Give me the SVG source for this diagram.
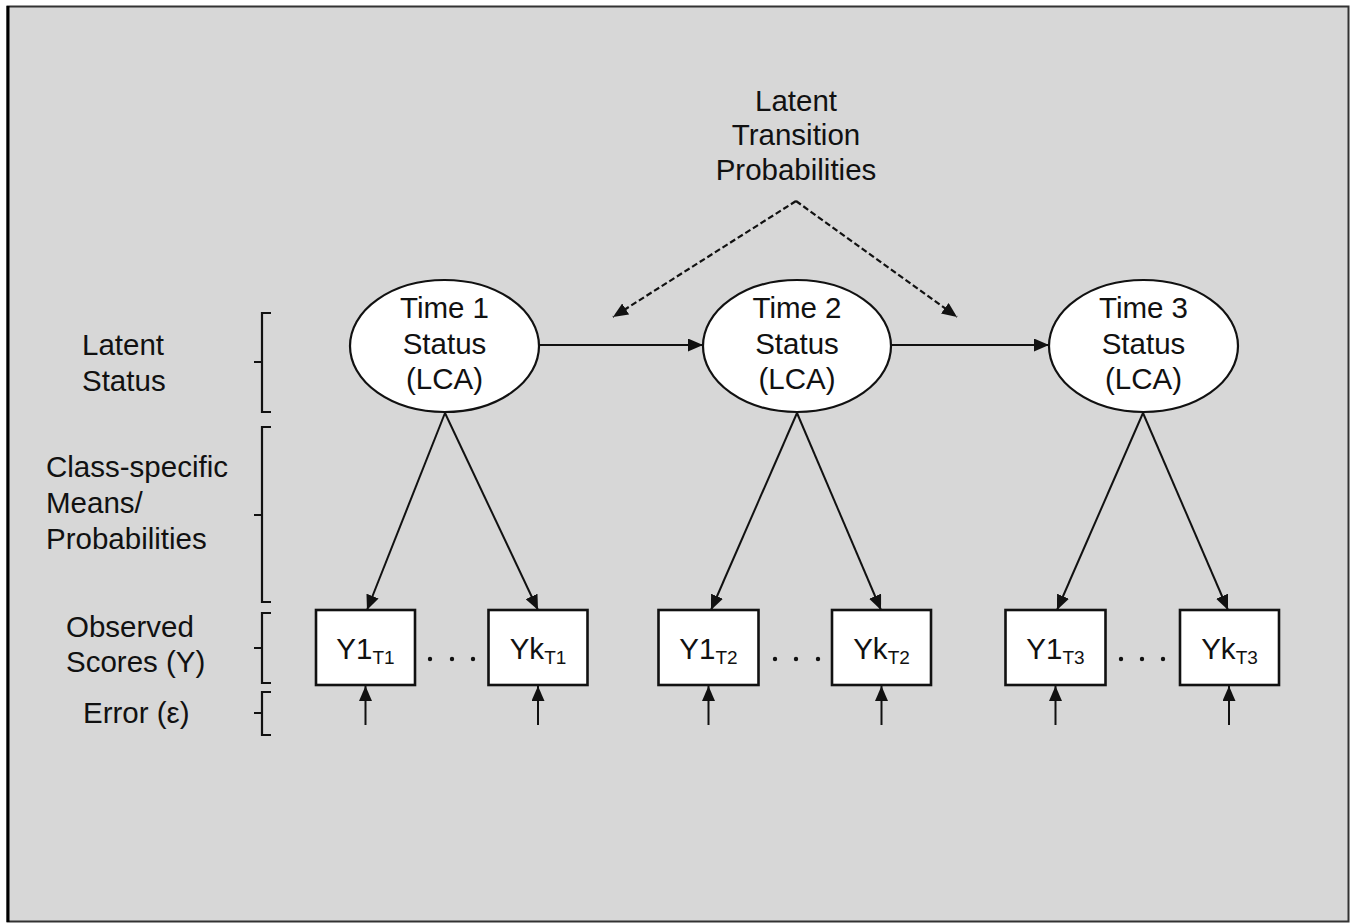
<svg xmlns="http://www.w3.org/2000/svg" width="1357" height="923" viewBox="0 0 1357 923">
<style>
text{font-family:"Liberation Sans",Arial,sans-serif;font-size:29.5px;fill:#111}
.c{text-anchor:middle}
.sub{font-size:19px}
.node ellipse,.node rect{fill:#fff;stroke:#111}
.edge{stroke:#111;stroke-width:2;fill:none}
.dash{stroke-dasharray:6,3;stroke-width:2.2}
.br{stroke:#111;stroke-width:2.2;fill:none}
</style>
<defs>
<marker id="ah" markerUnits="userSpaceOnUse" markerWidth="15" markerHeight="13" refX="15" refY="6.5" orient="auto">
<path d="M0,0 L15,6.5 L0,13 z" fill="#111"/>
</marker>
</defs>
<rect x="0" y="0" width="1357" height="923" fill="#fff"/>
<rect x="7.5" y="6.5" width="1341" height="915" fill="#d7d7d7" stroke="#333" stroke-width="2"/>
<line x1="8" y1="6" x2="8" y2="922" stroke="#000" stroke-width="3"/>

<g id="title">
<text class="c" x="796" y="111">Latent</text>
<text class="c" x="796" y="145">Transition</text>
<text class="c" x="796" y="180">Probabilities</text>
</g>

<g id="labels">
<text x="82" y="355">Latent</text>
<text x="82" y="391">Status</text>
<text x="46" y="477">Class-specific</text>
<text x="46" y="513">Means/</text>
<text x="46" y="549">Probabilities</text>
<text x="66" y="637">Observed</text>
<text x="66" y="672">Scores (Y)</text>
<text x="83" y="723">Error (ε)</text>
</g>

<g id="brackets">
<path class="br" d="M271,313 H262 V412 H271 M262,362 H254"/>
<path class="br" d="M271,427 H262 V602 H271 M262,515 H254"/>
<path class="br" d="M271,613 H262 V683 H271 M262,648 H254"/>
<path class="br" d="M271,692 H262 V735 H271 M262,713 H254"/>
</g>

<g id="connectors">
<line class="edge" x1="539" y1="345" x2="703" y2="345" marker-end="url(#ah)"/>
<line class="edge" x1="891" y1="345" x2="1049" y2="345" marker-end="url(#ah)"/>
<line class="edge dash" x1="796" y1="201" x2="613" y2="317" marker-end="url(#ah)"/>
<line class="edge dash" x1="796" y1="201" x2="957" y2="317" marker-end="url(#ah)"/>
<line class="edge" x1="445" y1="413" x2="367" y2="610" marker-end="url(#ah)"/>
<line class="edge" x1="445" y1="413" x2="538" y2="610" marker-end="url(#ah)"/>
<line class="edge" x1="797" y1="413" x2="711" y2="610" marker-end="url(#ah)"/>
<line class="edge" x1="797" y1="413" x2="881" y2="610" marker-end="url(#ah)"/>
<line class="edge" x1="1143" y1="413" x2="1057" y2="610" marker-end="url(#ah)"/>
<line class="edge" x1="1143" y1="413" x2="1228" y2="610" marker-end="url(#ah)"/>
<line class="edge" stroke-width="2.4" x1="365.5" y1="725" x2="365.5" y2="686" marker-end="url(#ah)"/>
<line class="edge" stroke-width="2.4" x1="538" y1="725" x2="538" y2="686" marker-end="url(#ah)"/>
<line class="edge" stroke-width="2.4" x1="708.5" y1="725" x2="708.5" y2="686" marker-end="url(#ah)"/>
<line class="edge" stroke-width="1.4" x1="881.5" y1="725" x2="881.5" y2="686" marker-end="url(#ah)"/>
<line class="edge" stroke-width="2.4" x1="1055.5" y1="725" x2="1055.5" y2="686" marker-end="url(#ah)"/>
<line class="edge" stroke-width="1.4" x1="1229" y1="725" x2="1229" y2="686" marker-end="url(#ah)"/>
</g>

<g id="time1" class="node">
<ellipse cx="444.5" cy="346" rx="94.5" ry="66" stroke-width="2.2"/>
<text class="c" x="444.5" y="318">Time 1</text>
<text class="c" x="444.5" y="354">Status</text>
<text class="c" x="444.5" y="389">(LCA)</text>
</g>
<g id="time2" class="node">
<ellipse cx="797" cy="346" rx="94" ry="66" stroke-width="2.2"/>
<text class="c" x="797" y="318">Time 2</text>
<text class="c" x="797" y="354">Status</text>
<text class="c" x="797" y="389">(LCA)</text>
</g>
<g id="time3" class="node">
<ellipse cx="1143.5" cy="346" rx="94.5" ry="66" stroke-width="2.2"/>
<text class="c" x="1143.5" y="318">Time 3</text>
<text class="c" x="1143.5" y="354">Status</text>
<text class="c" x="1143.5" y="389">(LCA)</text>
</g>

<g id="y1t1" class="node">
<rect x="316" y="610" width="99" height="75" stroke-width="2.6"/>
<text class="c" x="365.5" y="659">Y1<tspan class="sub" dy="5">T1</tspan></text>
</g>
<g id="ykt1" class="node">
<rect x="488.5" y="610" width="99" height="75" stroke-width="2.6"/>
<text class="c" x="538" y="659">Yk<tspan class="sub" dy="5">T1</tspan></text>
</g>
<g id="y1t2" class="node">
<rect x="658.5" y="610" width="100" height="75" stroke-width="2.6"/>
<text class="c" x="708.5" y="659">Y1<tspan class="sub" dy="5">T2</tspan></text>
</g>
<g id="ykt2" class="node">
<rect x="832" y="610" width="99" height="75" stroke-width="2.6"/>
<text class="c" x="881.5" y="659">Yk<tspan class="sub" dy="5">T2</tspan></text>
</g>
<g id="y1t3" class="node">
<rect x="1005.5" y="610" width="100" height="75" stroke-width="2.6"/>
<text class="c" x="1055.5" y="659">Y1<tspan class="sub" dy="5">T3</tspan></text>
</g>
<g id="ykt3" class="node">
<rect x="1180" y="610" width="99" height="75" stroke-width="2.6"/>
<text class="c" x="1229.5" y="659">Yk<tspan class="sub" dy="5">T3</tspan></text>
</g>

<g id="dots" fill="#111">
<circle cx="430" cy="659" r="2.2"/><circle cx="452" cy="659" r="2.2"/><circle cx="473" cy="659" r="2.2"/>
<circle cx="775" cy="659" r="2.2"/><circle cx="796" cy="659" r="2.2"/><circle cx="818" cy="659" r="2.2"/>
<circle cx="1121" cy="659" r="2.2"/><circle cx="1142" cy="659" r="2.2"/><circle cx="1163" cy="659" r="2.2"/>
</g>
</svg>
